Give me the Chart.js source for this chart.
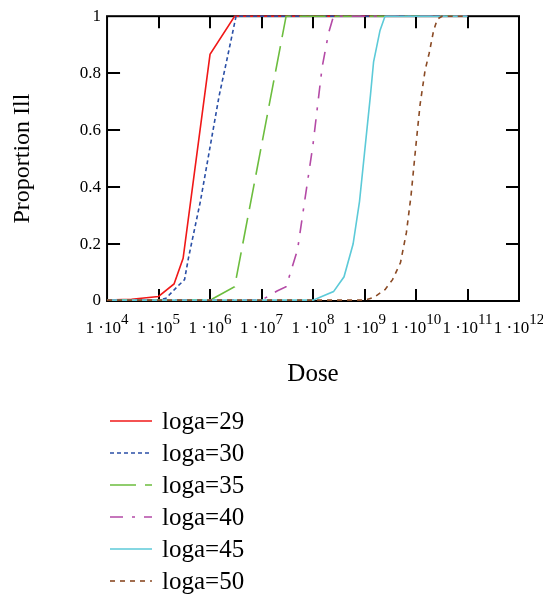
<!DOCTYPE html>
<html>
<head>
  <title>Proportion Ill vs Dose</title>
  <script src="https://cdn.jsdelivr.net/npm/chart.js"></script>
  <style>
    body { margin: 0; background: #fff; }
  </style>
</head>
<body>
  <canvas id="doseChart" width="543" height="595"></canvas>

  <script>
    // values
    const seriesLabels = ['loga=29', 'loga=30', 'loga=35', 'loga=40', 'loga=45', 'loga=50'];

    const dose29 = [1e4, 3e4, 1e5, 2e5, 3e5, 1e6, 3e6, 1e7, 1e8, 1e9, 1e10, 1e11];
    const prop29 = [0.003, 0.006, 0.016, 0.06, 0.15, 0.866, 1, 1, 1, 1, 1, 1];

    const dose30 = [1e4, 1e5, 1.4e5, 2.3e5, 3.2e5, 3.8e5, 6.5e5, 1e6, 1.5e6, 2.2e6, 3.2e6, 1e7, 1e8, 1e9, 1e10, 1e11];
    const prop30 = [0.003, 0.003, 0.01, 0.05, 0.075, 0.15, 0.35, 0.54, 0.72, 0.86, 1, 1, 1, 1, 1, 1];

    const dose35 = [1e4, 1e5, 1e6, 3e6, 3e7, 1e8, 1e9, 1e10, 1e11];
    const prop35 = [0.003, 0.003, 0.003, 0.05, 1, 1, 1, 1, 1];

    const dose40 = [1e4, 1e5, 1e6, 1e7, 2e7, 3e7, 5e7, 7e7, 1e8, 1.5e8, 2e8, 2.5e8, 1e9, 1e10, 1e11];
    const prop40 = [0.003, 0.003, 0.003, 0.003, 0.035, 0.05, 0.18, 0.36, 0.55, 0.82, 0.94, 1, 1, 1, 1];

    const dose45 = [1e4, 1e5, 1e6, 1e7, 1e8, 2.5e8, 4e8, 6e8, 8e8, 1e9, 1.3e9, 1.5e9, 2e9, 2.5e9, 1e10, 1e11];
    const prop45 = [0.003, 0.003, 0.003, 0.003, 0.003, 0.033, 0.085, 0.2, 0.35, 0.52, 0.72, 0.84, 0.95, 1, 1, 1];

    const dose50 = [1e4, 1e5, 1e6, 1e7, 1e8, 1e9, 1.5e9, 2.5e9, 3.5e9, 5e9, 6.5e9, 8e9, 1e10, 1.2e10, 1.5e10, 1.8e10, 2.2e10, 2.6e10, 3.2e10, 1e11];
    const prop50 = [0.003, 0.003, 0.003, 0.003, 0.003, 0.003, 0.012, 0.04, 0.075, 0.135, 0.24, 0.37, 0.55, 0.69, 0.81, 0.87, 0.95, 0.99, 1, 1];

    const xTickExponents = [4, 5, 6, 7, 8, 9, 10, 11, 12];
    const yTickValues = [0, 0.2, 0.4, 0.6, 0.8, 1];

    const serif = "'Liberation Serif', 'Times New Roman', serif";

    function pts(xs, ys) {
      return xs.map((d, i) => ({ x: d, y: ys[i] }));
    }

    const styles = [
      { color: '#f01818', dash: [] },
      { color: '#2a4fa6', dash: [4, 3] },
      { color: '#6cbd3e', dash: [26, 9] },
      { color: '#b44aa6', dash: [13, 9, 3, 9] },
      { color: '#5ccad8', dash: [] },
      { color: '#8a4a24', dash: [5, 5] }
    ];
    const series = [[dose29, prop29], [dose30, prop30], [dose35, prop35], [dose40, prop40], [dose45, prop45], [dose50, prop50]];

    const datasets = series.map((s, i) => ({
      label: seriesLabels[i],
      data: pts(s[0], s[1]),
      borderColor: styles[i].color,
      borderDash: styles[i].dash,
      borderWidth: 1.6,
      pointRadius: 0,
      fill: false,
      tension: 0,
      clip: false,
      order: series.length - i
    }));

    // box round the plot, inward ticks, x labels with superscripts, legend
    const framePlugin = {
      id: 'frame',
      beforeDatasetsDraw(chart) {
        const { ctx, chartArea: a, scales: { x, y } } = chart;
        ctx.save();
        ctx.strokeStyle = '#000';
        ctx.lineWidth = 2;
        ctx.strokeRect(a.left, a.top, a.right - a.left, a.bottom - a.top);
        ctx.beginPath();
        xTickExponents.slice(1, -1).forEach(e => {
          const px = Math.round(x.getPixelForValue(Math.pow(10, e)));
          ctx.moveTo(px, a.bottom); ctx.lineTo(px, a.bottom - 12);
          ctx.moveTo(px, a.top); ctx.lineTo(px, a.top + 12);
        });
        yTickValues.slice(1, -1).forEach(v => {
          const py = Math.round(y.getPixelForValue(v));
          ctx.moveTo(a.left, py); ctx.lineTo(a.left + 13, py);
          ctx.moveTo(a.right, py); ctx.lineTo(a.right - 13, py);
        });
        ctx.stroke();

        ctx.fillStyle = '#000';
        ctx.textBaseline = 'alphabetic';
        ctx.textAlign = 'left';
        xTickExponents.forEach(e => {
          const px = x.getPixelForValue(Math.pow(10, e));
          const base = '1 \u00b710';
          const sup = String(e);
          ctx.font = '17px ' + serif;
          const wb = ctx.measureText(base).width;
          ctx.font = '15px ' + serif;
          const ws = ctx.measureText(sup).width;
          const start = px - (wb + ws) / 2;
          ctx.font = '17px ' + serif;
          ctx.fillText(base, start, a.bottom + 32);
          ctx.font = '15px ' + serif;
          ctx.fillText(sup, start + wb, a.bottom + 23);
        });
        ctx.restore();
      },
      afterDraw(chart) {
        const { ctx } = chart;
        ctx.save();
        ctx.textBaseline = 'middle';
        ctx.textAlign = 'left';
        ctx.font = '25px ' + serif;
        chart.data.datasets.forEach((ds, i) => {
          const yy = 421 + i * 32;
          ctx.strokeStyle = ds.borderColor;
          ctx.lineWidth = 1.6;
          ctx.setLineDash(ds.borderDash);
          ctx.beginPath();
          ctx.moveTo(110, yy);
          ctx.lineTo(152, yy);
          ctx.stroke();
          ctx.setLineDash([]);
          ctx.fillStyle = '#000';
          ctx.fillText(ds.label, 162, yy + 1);
        });
        ctx.restore();
      }
    };

    new Chart(document.getElementById('doseChart'), {
      type: 'line',
      data: { datasets: datasets },
      plugins: [framePlugin],
      options: {
        responsive: false,
        animation: false,
        layout: { padding: { left: 0, right: 24, top: 16, bottom: 202 } },
        plugins: {
          legend: { display: false },
          tooltip: { enabled: false }
        },
        scales: {
          x: {
            type: 'logarithmic',
            min: 1e4,
            max: 1e12,
            grid: { display: false, drawTicks: false },
            border: { display: false },
            ticks: { display: false },
            title: {
              display: true,
              text: 'Dose',
              color: '#000',
              font: { family: serif, size: 25 },
              padding: { top: 58, bottom: 4 }
            }
          },
          y: {
            min: 0,
            max: 1,
            grid: { display: false, drawTicks: false },
            border: { display: false },
            ticks: {
              stepSize: 0.2,
              color: '#000',
              padding: 6,
              font: { family: serif, size: 17 },
              callback: v => String(Number(v.toFixed(1)))
            },
            title: {
              display: true,
              text: 'Proportion Ill',
              color: '#000',
              font: { family: serif, size: 24 },
              padding: { top: 8, bottom: 37 }
            }
          }
        }
      }
    });
  </script>
</body>
</html>
